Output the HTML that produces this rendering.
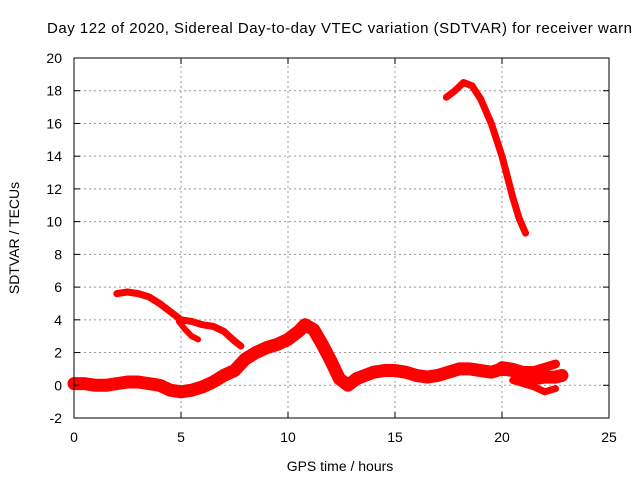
<!DOCTYPE html>
<html><head><meta charset="utf-8"><style>
body{margin:0;background:#fff}
svg{display:block;font-family:"Liberation Sans",sans-serif}
</style></head><body>
<svg id="chart" width="640" height="480" viewBox="0 0 640 480" xmlns="http://www.w3.org/2000/svg">
<rect width="640" height="480" fill="#fff"/>
<text x="47" y="33" font-size="15" textLength="585" lengthAdjust="spacing" fill="#000">Day 122 of 2020, Sidereal Day-to-day VTEC variation (SDTVAR) for receiver warn</text>
<g id="grid"></g>
<g id="series"></g>
<g id="axes"></g>
<text x="340" y="471" font-size="14" text-anchor="middle">GPS time / hours</text>
<text transform="translate(19,238) rotate(-90)" font-size="14" text-anchor="middle">SDTVAR / TECUs</text>
</svg>
<script>
const xTicks=[0,5,10,15,20,25];
const yTicks=[-2,0,2,4,6,8,10,12,14,16,18,20];
const lowBandX=[0,0.5,1,1.5,2,2.5,3,3.5,4,4.5,5,5.5,6,6.5,7,7.5,8,8.5,9,9.5,10,10.5,10.8,11.2,11.6,12,12.4,12.8,13.2,13.6,14,14.5,15,15.5,16,16.5,17,17.5,18,18.5,19,19.5,20,20.5,21,21.5,22,22.5,22.8];
const lowBandY=[0.1,0.1,0,0,0.1,0.2,0.2,0.1,0,-0.3,-0.4,-0.3,-0.1,0.2,0.6,0.9,1.6,2,2.3,2.5,2.8,3.3,3.7,3.4,2.5,1.5,0.4,0,0.4,0.6,0.8,0.9,0.9,0.8,0.6,0.5,0.6,0.8,1,1,0.9,0.8,1,0.9,0.6,0.4,0.5,0.5,0.6];
const upperBranchX=[19.5,20,20.5,21,21.5,22,22.5];
const upperBranchY=[0.8,1.2,1.1,0.9,0.9,1.1,1.3];
const lowerBranchX=[20.5,21,21.5,22,22.5];
const lowerBranchY=[0.3,0.1,-0.1,-0.4,-0.2];
const arcX=[2,2.5,3,3.5,4,4.5,5,5.5,6,6.5,7,7.5,7.8];
const arcY=[5.6,5.7,5.6,5.4,5,4.5,4,3.9,3.7,3.6,3.3,2.7,2.4];
const forkX=[4.9,5.2,5.5,5.8];
const forkY=[3.9,3.4,3,2.8];
const highX=[17.4,17.8,18.2,18.6,19,19.5,20,20.5,20.8,21.1];
const highY=[17.6,18,18.5,18.3,17.5,16,14,11.5,10.2,9.3];
const X0=74,X1=609,Y0=418,Y1=58;
const sx=v=>X0+(v-0)/25*(X1-X0);
const sy=v=>Y0-(v+2)/22*(Y0-Y1);
const NS="http://www.w3.org/2000/svg";
const grid=document.getElementById('grid'),axes=document.getElementById('axes'),series=document.getElementById('series');
function mk(tag,attrs,parent){const e=document.createElementNS(NS,tag);for(const k in attrs)e.setAttribute(k,attrs[k]);parent.appendChild(e);return e;}
xTicks.forEach(t=>{
 if(t>0&&t<25){const g=mk('line',{x1:sx(t),x2:sx(t),y1:Y0,y2:Y1,stroke:'#999','stroke-dasharray':'2,3'},grid);
 
 }
 const l=mk('text',{x:sx(t),y:Y0+24,'font-size':14,'text-anchor':'middle'},axes);l.textContent=t;
 
 
 mk('line',{x1:sx(t),x2:sx(t),y1:Y0,y2:Y0-6,stroke:'#000'},axes);
 mk('line',{x1:sx(t),x2:sx(t),y1:Y1,y2:Y1+6,stroke:'#000'},axes);
});
yTicks.forEach(t=>{
 if(t>-2&&t<20){const g=mk('line',{x1:X0,x2:X1,y1:sy(t),y2:sy(t),stroke:'#999','stroke-dasharray':'2,3'},grid);
 
 }
 const l=mk('text',{x:X0-12,y:sy(t)+5,'font-size':14,'text-anchor':'end'},axes);l.textContent=t;
 
 
 mk('line',{x1:X0,x2:X0+6,y1:sy(t),y2:sy(t),stroke:'#000'},axes);
 mk('line',{x1:X1,x2:X1-6,y1:sy(t),y2:sy(t),stroke:'#000'},axes);
});
const frame=mk('rect',{x:X0,y:Y1,width:X1-X0,height:Y0-Y1,fill:'none',stroke:'#000'},axes);


function line(xs,ys,w,name){
 const p=mk('polyline',{points:xs.map((x,i)=>sx(x)+','+sy(ys[i])).join(' '),fill:'none',stroke:'#f00','stroke-width':w,'stroke-linejoin':'round','stroke-linecap':'round'},series);
 
 
}
line(lowBandX,lowBandY,13,'low-band-series');
line(upperBranchX,upperBranchY,9,'upper-branch-series');
line(lowerBranchX,lowerBranchY,7,'lower-branch-series');
line(arcX,arcY,7,'arc-series');
line(forkX,forkY,6,'fork-series');
line(highX,highY,7,'high-series');
</script>
</body></html>
